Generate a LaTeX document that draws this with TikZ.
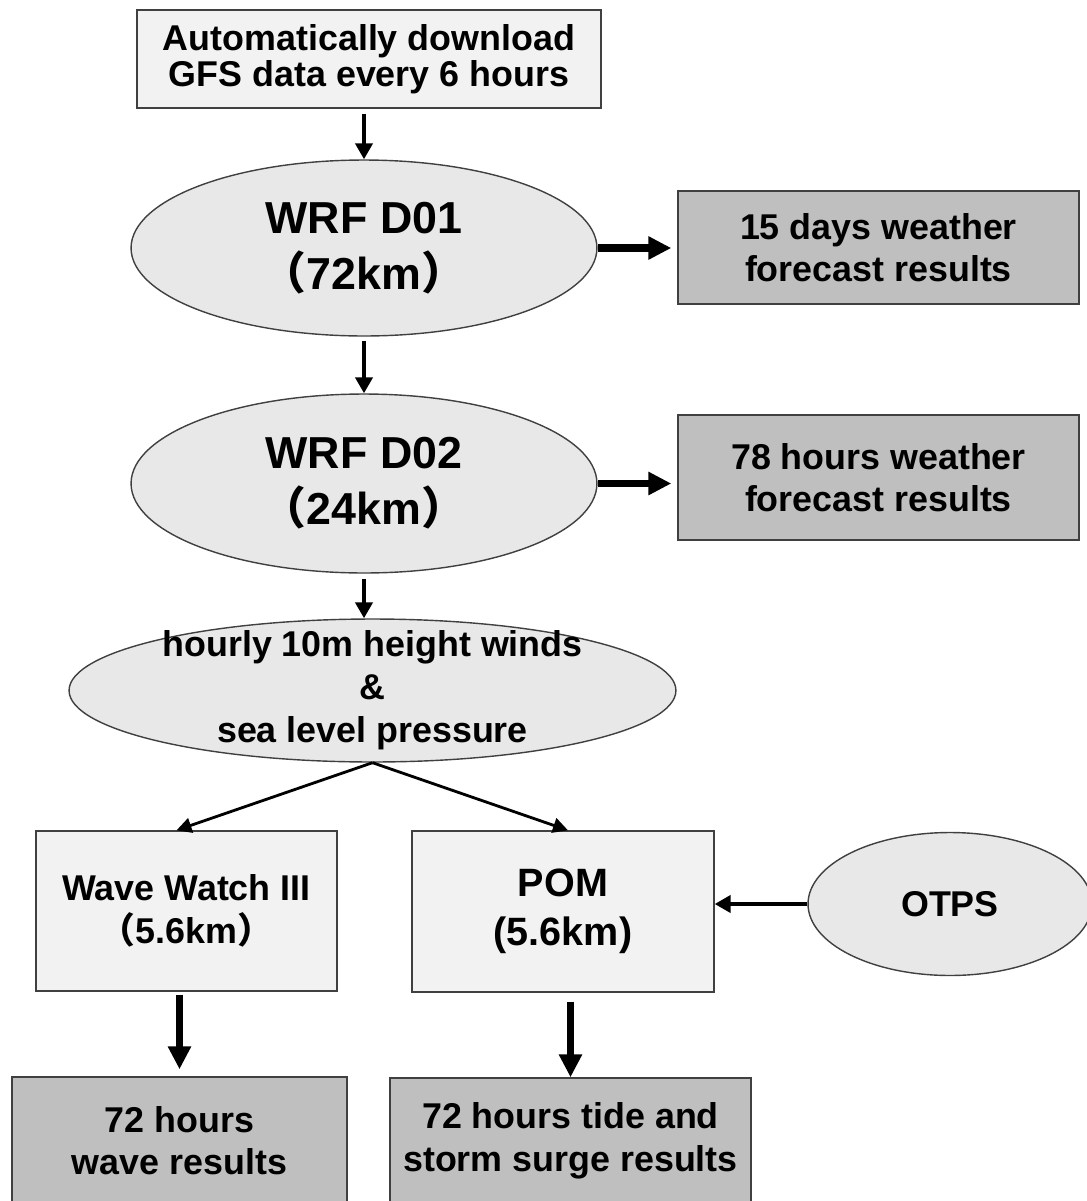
\documentclass[tikz,border=0pt]{standalone}
\usepackage{fontspec}
\setmainfont{Liberation Sans}
\newfontfamily\cjk{Noto Sans CJK SC}
\usetikzlibrary{arrows.meta,shapes.geometric}

\begin{document}
\begin{tikzpicture}[x=0.02cm,y=-0.02cm,
  lbox/.style={draw=black!75,line width=.8pt,fill=black!5,inner sep=0pt,align=center,
    font=\bfseries\fontsize{20.4}{24.2}\selectfont},
  dbox/.style={lbox,fill=black!25},
  oval/.style={lbox,ellipse,fill=black!9},
  arr/.style={line width=2.6pt,-{Triangle[length=.32cm,width=.34cm]}},
  fat/.style={line width=4pt,-{Triangle[length=.46cm,width=.44cm]}}]
\useasboundingbox (0,0) rectangle (1086,1201);
\node[lbox,minimum width=9.28cm,minimum height=1.96cm,font=\bfseries\fontsize{20.4}{20.2}\selectfont] (gfs) at(369,59)
  {Automatically download\\GFS data every 6 hours};
\node[oval,minimum width=9.32cm,minimum height=3.52cm,font=\bfseries\fontsize{25.5}{32}\selectfont] (d01) at(364,248)
  {WRF D01\\{\cjk （}72km{\cjk ）}};
\node[oval,minimum width=9.32cm,minimum height=3.58cm,font=\bfseries\fontsize{25.5}{32}\selectfont] (d02) at(364,483.5)
  {WRF D02\\{\cjk （}24km{\cjk ）}};
\node[dbox,minimum width=8.02cm,minimum height=2.26cm] (fc15) at(878.5,247.5) {15 days weather\\forecast results};
\node[dbox,minimum width=8.02cm,minimum height=2.5cm] (fc78) at(878.5,477.5) {78 hours weather\\forecast results};
\node[oval,minimum width=12.14cm,minimum height=2.86cm,inner ysep=-.3cm,font=\bfseries\fontsize{20.4}{24.4}\selectfont] (wind) at(372.5,690.5)
  {hourly 10m height winds\\\&\\sea level pressure};
\node[lbox,minimum width=6.02cm,minimum height=3.2cm] (ww3) at(186.5,911) {Wave Watch III\\{\cjk （}5.6km{\cjk ）}};
\node[lbox,minimum width=6.04cm,minimum height=3.22cm,font=\bfseries\fontsize{22.5}{28}\selectfont] (pom) at(563,911.5)
  {POM\\(5.6km)};
\node[oval,minimum width=5.68cm,minimum height=2.86cm] (otps) at(950,904) {OTPS};
\node[dbox,minimum width=6.7cm,minimum height=2.54cm] (wave) at(179.5,1140.5) {72 hours\\wave results};
\node[dbox,minimum width=7.22cm,minimum height=2.52cm] (surge) at(570.5,1141) {72 hours tide and\\storm surge results};
% flow
\draw[arr,shorten <=.1cm] (d01.north |- gfs.south)--(d01.north);
\draw[arr,shorten <=.08cm] (d01.south)--(d02.north);
\draw[arr,shorten <=.1cm] (d02.south)--(d02.south |- wind.north);
\draw[line width=1.6pt,-{Triangle[length=.3cm,width=.3cm]}] (wind.south)--([xshift=-.2cm]ww3.north);
\draw[line width=1.6pt,-{Triangle[length=.3cm,width=.3cm]}] (wind.south)--([xshift=.1cm]pom.north);
\draw[arr] (otps.west)--(otps.west -| pom.east);
% results
\draw[fat,shorten >=.12cm] (d01.east)--(d01.east -| fc15.west);
\draw[fat,shorten >=.12cm] (d02.east)--(d02.east -| fc78.west);
\draw[fat,shorten <=.06cm,shorten >=.14cm] (wave.north |- ww3.south)--(wave.north);
\draw[fat,shorten <=.18cm] (surge.north |- pom.south)--(surge.north);
\end{tikzpicture}
\end{document}
